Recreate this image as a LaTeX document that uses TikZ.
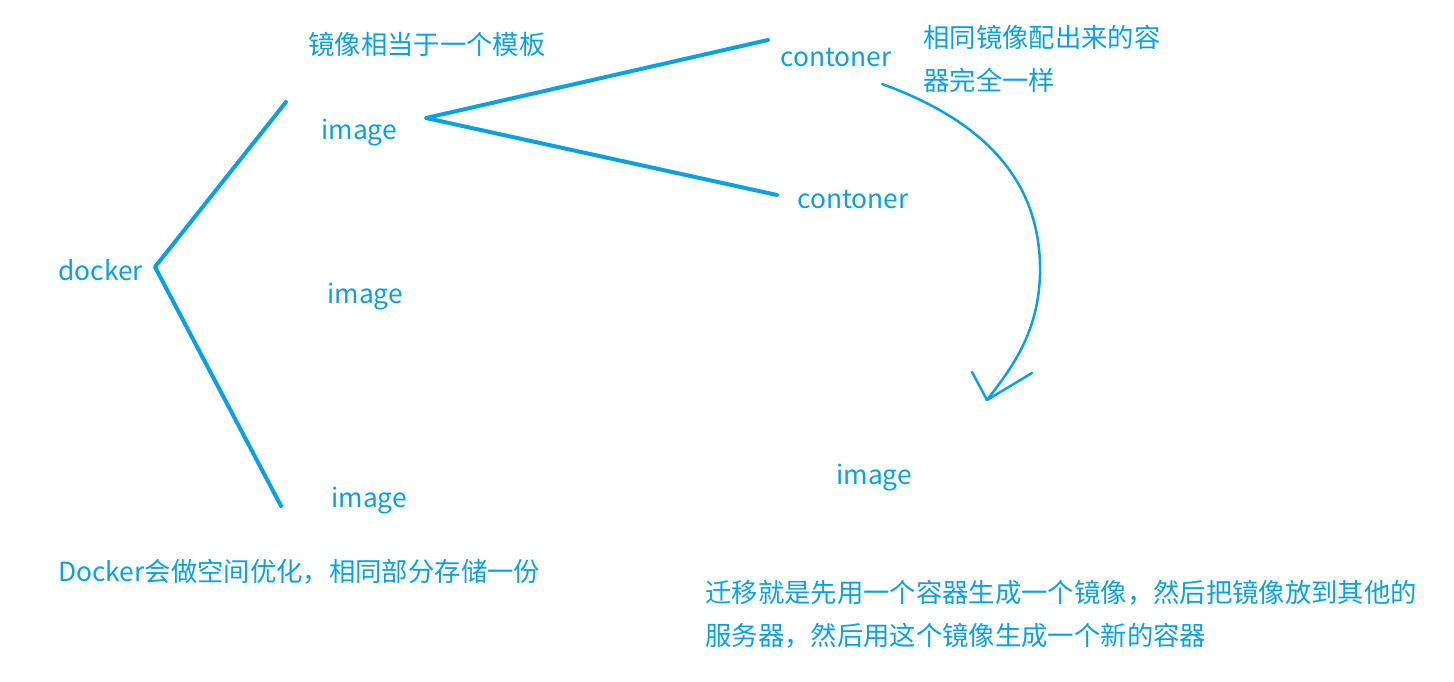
\documentclass[tikz,border=0pt]{standalone}
\usepackage{fontspec}
\setmainfont{Noto Sans CJK SC}
\usepackage{xcolor}
\usepackage{tikz}
\usetikzlibrary{positioning}
\definecolor{pen}{RGB}{10,160,230}

\tikzset{
  txt/.style={text=pen, inner sep=0pt, font=\fontsize{15}{24.5}\selectfont},
  word/.style={txt, anchor=base west},
  note/.style={txt, anchor=west, align=left},
  stroke/.style={draw=pen, line width=0.08cm, line cap=round, line join=round},
  thin/.style={draw=pen, line width=0.05cm, line cap=round, line join=round}
}

\begin{document}
\begin{tikzpicture}[x=0.02cm,y=-0.02cm]
            \useasboundingbox (0,0) rectangle (1454,682);
            % words
            \node[word] (docker) at (58,280){docker};
            \node[word] (img1) at (321,140){image};
            \node[word] (img2) at (327,303){image};
            \node[word] (img3) at (331,507){image};
            \node[word] (img4) at (836,484){image};
            \node[word] (cont1) at (780,67){contoner};
            \node[word] (cont2) at (797,209){contoner};
            % notes
            \node[note] (tmpl) at (308,44){镜像相当于一个模板};
            \node[note] (same) at (923,59){相同镜像配出来的容\\器完全一样};
            \node[note] (opt) at (58,572){Docker会做空间优化，相同部分存储一份};
            \node[note] (move) at (705,614){迁移就是先用一个容器生成一个镜像，然后把镜像放到其他的\\服务器，然后用这个镜像生成一个新的容器};
            % branch points
            \coordinate (fork) at (155,267);
            \coordinate (upend) at (286,102);
            \coordinate (lowend) at (281,506);
            \coordinate (split) at (426,118);
            \coordinate (c1end) at (768,40);
            \coordinate (c2end) at (777,195);
            \draw[stroke] (upend) -- (fork) -- (lowend);
            \draw[stroke] (c1end) -- (split) -- (c2end);
            % migration arrow
            \coordinate (arrstart) at (882,84);
            \coordinate (arrtip) at (987,400);
            \coordinate (tipL) at (972,372);
            \coordinate (tipR) at (1032,373);
            \draw[thin] (arrstart) .. controls (995,125) and (1042,190) .. (1040,275) .. controls (1038,335) and (1010,370) .. (arrtip);
            \draw[thin] (tipL) -- (arrtip) -- (tipR);
        \end{tikzpicture}
\end{document}
